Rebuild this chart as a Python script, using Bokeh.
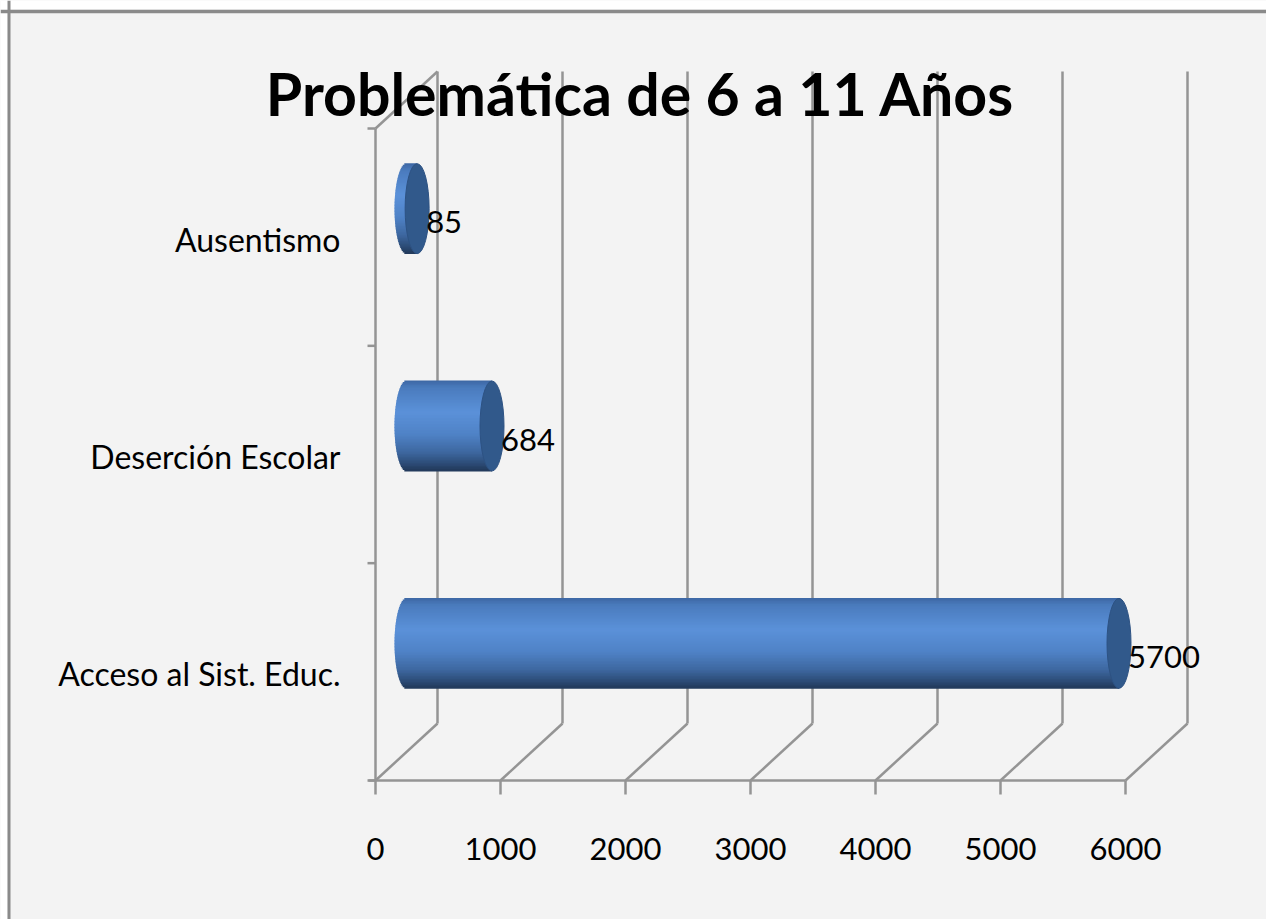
import numpy as np
from bokeh.plotting import figure
from bokeh.models import Range1d, Span
from bokeh.core.properties import value
from bokeh.embed import file_html
from bokeh.resources import INLINE

# ---------------- data ----------------
categories = ["Acceso al Sist. Educ.", "Deserción Escolar", "Ausentismo"]  # bottom -> top
values = [5700, 684, 85]
xticks = [0, 1000, 2000, 3000, 4000, 5000, 6000]
xtick_labels = ["0", "1000", "2000", "3000", "4000", "5000", "6000"]
title_text = "Problemática de 6 a 11 Años"

# ---------------- layout helpers ----------------
W, H = 1266, 919
PX_X = 8.0          # value units per pixel
BAND = 217.333      # pixels per category band
OX, OY = 375, 780   # canvas position of (0, 0)

def ux(px):
    return px * PX_X

def uy(px):
    return px / BAND

xr0 = -OX * PX_X
xr1 = (W - OX) * PX_X
yr0 = -(H - OY) / BAND
yr1 = OY / BAND

n = len(categories)
DX, DY = ux(62), uy(57)   # depth offset of the 3-D box
FONT = value("Lato")
GRID = "#949494"
BG = "#f3f3f3"

p = figure(width=W, height=H, x_range=Range1d(xr0, xr1), y_range=Range1d(yr0, yr1),
           x_axis_type=None, y_axis_type=None, toolbar_location=None,
           output_backend="svg", min_border=0)
p.background_fill_color = BG
p.border_fill_color = BG
p.outline_line_color = None

# white page strip outside the chart frame (left and top)
p.quad(left=[xr0, xr0], right=[xr0 + ux(7), xr1], bottom=[yr0, yr1 - uy(9)],
       top=[yr1, yr1], fill_color="white", line_color=None)

# back-wall gridlines
xt = np.array(xticks, dtype=float)
p.segment(x0=xt + DX, y0=[DY] * len(xt), x1=xt + DX, y1=[n + DY] * len(xt),
          line_color=GRID, line_width=2.5)
# floor diagonals
p.segment(x0=xt, y0=[0] * len(xt), x1=xt + DX, y1=[DY] * len(xt),
          line_color=GRID, line_width=2.5)
# front floor edge
p.segment(x0=[-ux(7)], y0=[0], x1=[xt.max()], y1=[0], line_color=GRID, line_width=2.5)
# left wall: front edge and top diagonal
p.segment(x0=[0, 0], y0=[0, n], x1=[0, DX], y1=[n, n + DY], line_color=GRID, line_width=2.5)
# category ticks
ci = np.arange(n + 1, dtype=float)
p.segment(x0=[-ux(8)] * (n + 1), y0=ci, x1=[0] * (n + 1), y1=ci, line_color=GRID, line_width=2.5)
# value ticks
p.segment(x0=xt, y0=[0] * len(xt), x1=xt, y1=[-uy(14)] * len(xt), line_color=GRID, line_width=2.5)

# value tick labels
p.text(x=xt, y=[-uy(68.5)] * len(xt), text=xtick_labels, text_align="center",
       text_baseline="middle", text_font=FONT, text_font_size="31px", text_color="#000000")

# category labels
p.text(x=[-ux(35)] * n, y=[i + 0.5 - uy(2) for i in range(n)], text=categories,
       text_align="right", text_baseline="middle", text_font=FONT,
       text_font_size="32px", text_color="#000000")

# ---------------- cylinders ----------------
stops_t = [0.0, 0.08, 0.35, 0.6, 0.8, 0.93, 1.0]
stops_c = ["#3d67a3", "#4a7bbd", "#5b91d9", "#4f82c6", "#3d679f", "#2b4a74", "#22395a"]

def hex2rgb(h):
    return np.array([int(h[i:i + 2], 16) for i in (1, 3, 5)], dtype=float)

stops_rgb = np.array([hex2rgb(c) for c in stops_c])

def grad(t):
    rgb = [np.interp(t, stops_t, stops_rgb[:, k]) for k in range(3)]
    return "#%02x%02x%02x" % tuple(int(round(c)) for c in rgb)

A = ux(12)    # horizontal semi-axis of end ellipses
B = uy(45)    # vertical radius of cylinder
NS = 60
for i, v in enumerate(values):
    cy = i + 0.5 + DY / 2
    xs = DX / 2
    xe = v + DX / 2
    tops, bots, lefts, rights, cols = [], [], [], [], []
    for k in range(NS):
        t = (k + 0.5) / NS
        yt = cy + B - 2 * B * k / NS
        yb = cy + B - 2 * B * (k + 1) / NS
        dy = 2 * t - 1
        lefts.append(xs - A * np.sqrt(max(0.0, 1 - dy * dy)))
        rights.append(xe)
        tops.append(yt + uy(0.4))
        bots.append(yb - uy(0.4))
        cols.append(grad(t))
    p.quad(left=lefts, right=rights, top=tops, bottom=bots, fill_color=cols, line_color=None)
    # end cap
    p.ellipse(x=[xe], y=[cy], width=[2 * A], height=[2 * B], fill_color="#31598b",
              line_color="#2d5283", line_width=1)
    # data label
    p.text(x=[xe + A], y=[cy - uy(13.5)], text=[str(v)], text_align="left", x_offset=-3,
           text_baseline="middle", text_font=FONT, text_font_size="31px",
           text_color="#000000")

# title
p.text(x=[ux(640 - OX)], y=[uy(OY - 92.5)], text=[title_text],
       text_align="center", text_baseline="middle", text_font=FONT,
       text_font_style="bold", text_font_size="59px", text_color="#000000")

# chart border (left and top)
p.add_layout(Span(location=xr0 + ux(8.5), dimension="height", line_color="#8a8a8a", line_width=3))
p.add_layout(Span(location=yr1 - uy(11), dimension="width", line_color="#8a8a8a", line_width=3.5))

open("out.html", "w").write(file_html(p, INLINE))
